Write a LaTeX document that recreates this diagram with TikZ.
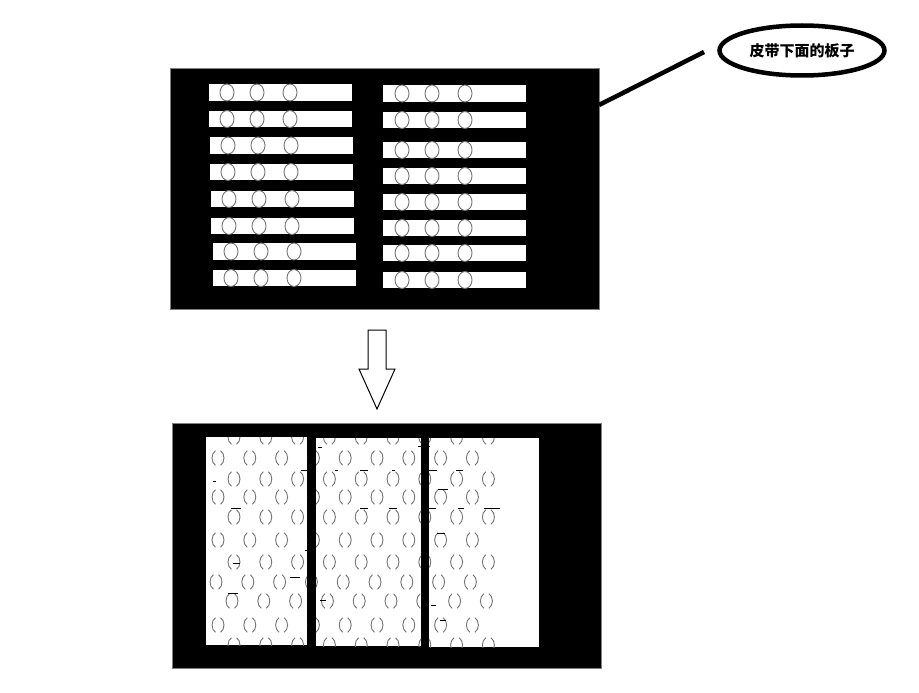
\documentclass[tikz,border=0pt]{standalone}
\usepackage{fontspec}
\newfontfamily\cjk{Noto Sans CJK SC}
\usetikzlibrary{shapes.geometric}
\tikzset{
  panel/.style={draw=gray, line width=1pt, fill=black, anchor=north west, inner sep=0pt, outer sep=0pt},
  hole/.style={draw=black!55, line width=0.9pt},
  semi/.style={draw=black!55, line width=0.9pt},
  leader/.style={line width=4.5pt},
  bubble/.style={ellipse, draw, line width=4.5pt, minimum width=165pt, minimum height=50pt, inner sep=0pt},
  blockarrow/.style={draw, fill=white, line width=1pt, line join=miter},
  speck/.style={line width=1pt}
}
\begin{document}
\begin{tikzpicture}[x=1pt,y=-1pt]
\useasboundingbox (0,0) rectangle (919,693);
\fill[white] (0,0) rectangle (919,693);

% ---------- top panel ----------
\node[panel, minimum width=429pt, minimum height=240pt] (top) at (170,69) {};
% left column of bars
\foreach \xa/\ya/\xb/\yb in {209/84/352/101, 209/111/352/127, 210/137/353/154, 210/164/353/180,
                             211/191/354/207, 211/218/354/234, 213/243/356/260, 213/270/356/286}{
  \fill[white] (\xa,\ya) rectangle (\xb,\yb);
  \foreach \dx in {18,48,81}
    \draw[hole] ({\xa+\dx},{(\ya+\yb)/2}) ellipse[x radius=7, y radius=8.5];
}
% right column of bars
\foreach \xa/\ya/\xb/\yb in {383/85/526/102, 383/112/526/128, 383/142/526/158, 383/168/526/184,
                             383/194/526/210, 383/220/526/236, 383/245/526/261, 383/272/526/288}{
  \fill[white] (\xa,\ya) rectangle (\xb,\yb);
  \foreach \dx in {19,49,82}
    \draw[hole] ({\xa+\dx},{(\ya+\yb)/2}) ellipse[x radius=7, y radius=8.5];
}

% ---------- callout ----------
\node[bubble] (callout) at (802,50.5) {\cjk\bfseries\fontsize{15}{18}\selectfont 皮带下面的板子};
\coordinate (lead) at (704,52);
\draw[leader] ([yshift=-36pt]top.north east) -- (lead);

% ---------- arrow ----------
\draw[blockarrow] (368,330) -- (386,330) -- (386,369) -- (395,369) -- (377,409) -- (359,369) -- (368,369) -- cycle;

% ---------- bottom panel ----------
\node[panel, minimum width=429pt, minimum height=245pt] (bottom) at (172,423) {};
\foreach \xa/\ya/\xb/\yb in {206/437/307/645, 316/438/421/646, 429/438/539/647}{
  \fill[white] (\xa,\ya) rectangle (\xb,\yb);
  \begin{scope}
    \clip (\xa,\ya) rectangle (\xb,\yb);
    \foreach \yy/\off in {437/234, 458/218, 479/234, 497/218, 517/234, 540/218, 562/234, 582/216, 601/232, 625/218, 645/234}{
      \foreach \k in {0,...,8}{
        \pgfmathsetmacro{\cx}{\off+31.8*\k}
        \draw[semi] (\cx,\yy) ++(-6,0) arc[start angle=180, end angle=115, x radius=6, y radius=8];
        \draw[semi] (\cx,\yy) ++(-6,0) arc[start angle=180, end angle=245, x radius=6, y radius=8];
        \draw[semi] (\cx,\yy) ++(6,0) arc[start angle=0, end angle=65, x radius=6, y radius=8];
        \draw[semi] (\cx,\yy) ++(6,0) arc[start angle=0, end angle=-65, x radius=6, y radius=8];
      }
    }
  \end{scope}
}
% small black specks
\foreach \xa/\xb/\yy in {301/308/470, 231/241/508, 318/322/447, 335/338/470, 360/368/470, 360/368/508,
                         418/430/446, 392/395/470, 428/437/470, 456/463/470, 438/448/489, 389/397/508,
                         428/436/508, 458/464/508, 484/500/508, 437/445/533, 213/216/481, 305/313/550,
                         233/240/563, 290/300/577, 228/238/593, 431/436/605, 440/446/620, 320/326/600}{
  \draw[speck] (\xa,\yy) -- (\xb,\yy);
}
\end{tikzpicture}
\end{document}
